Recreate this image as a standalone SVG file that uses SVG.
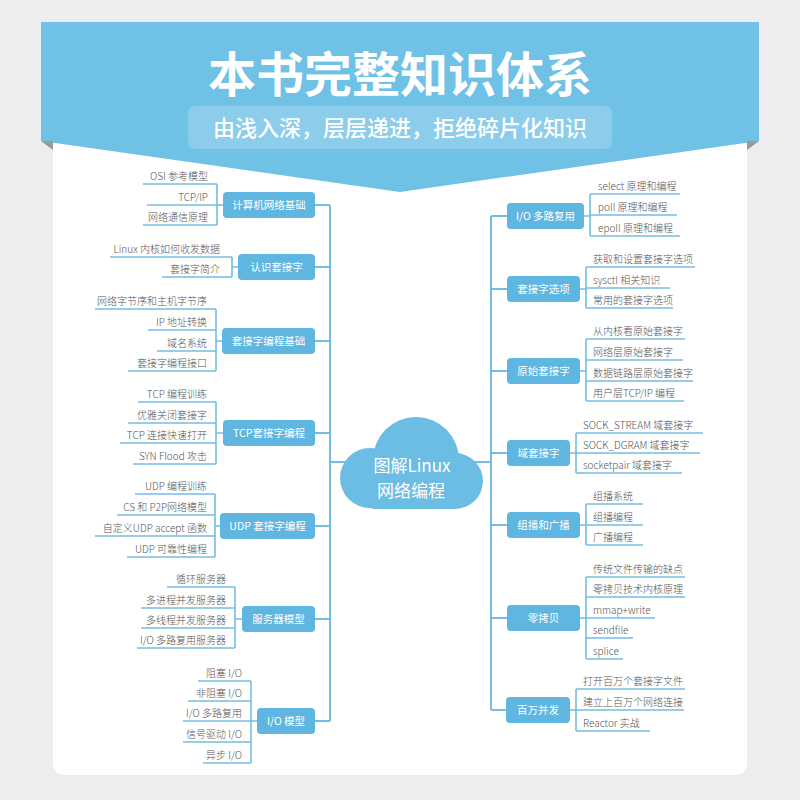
<svg xmlns="http://www.w3.org/2000/svg" width="800" height="800" viewBox="0 0 800 800">
<defs>
<style>
.bg{fill:#ededef}
.card{fill:#ffffff}
.banner{fill:#70c1e6}
.fold{fill:#9a9a9c}
.box{fill:#5fb6e0}
.ln{stroke:#74bde2;stroke-width:2;fill:none}
.ul{stroke:#74bde2;stroke-width:1.6;fill:none}
.nt{font-family:"Noto Sans CJK SC","Noto Sans",sans-serif;font-size:10.5px;fill:#ffffff;text-anchor:middle}
.lt{font-family:"Noto Sans CJK SC","Noto Sans",sans-serif;font-size:10px;fill:#555555;font-weight:300}
.l{text-anchor:end}
.r{text-anchor:start}
.ct{font-family:"Noto Sans CJK SC","Noto Sans",sans-serif;font-size:17px;fill:#ffffff;text-anchor:middle}
</style>
</defs>
<rect class="bg" x="0" y="0" width="800" height="800"/>
<path class="card" d="M53,130 H747 V763 Q747,775 735,775 H65 Q53,775 53,763 Z"/>
<g id="banner">
<polygon class="banner" points="41,22 759,22 759,141 400,192 41,141"/>
<polygon class="fold" points="41,141 53,141 53,150"/>
<polygon class="fold" points="759,141 747,141 747,150"/>
<text x="400" y="92" font-family="'Noto Sans CJK SC',sans-serif" font-size="48" font-weight="bold" fill="#ffffff" text-anchor="middle">本书完整知识体系</text>
<rect x="188" y="106" width="424" height="43" rx="6" fill="#ffffff" fill-opacity="0.2"/>
<text x="400" y="136" font-family="'Noto Sans CJK SC',sans-serif" font-size="22" font-weight="500" fill="#ffffff" text-anchor="middle">由浅入深，层层递进，拒绝碎片化知识</text>
</g>

<g id="connectors">
<line class="ln" x1="330" y1="462" x2="491" y2="462"/>
<line class="ln" x1="330" y1="205" x2="330" y2="721"/>
<line class="ln" x1="491" y1="216" x2="491" y2="710"/>
<line class="ln" x1="315" y1="205" x2="330" y2="205"/>
<line class="ln" x1="315" y1="267" x2="330" y2="267"/>
<line class="ln" x1="315" y1="341" x2="330" y2="341"/>
<line class="ln" x1="315" y1="433" x2="330" y2="433"/>
<line class="ln" x1="315" y1="526" x2="330" y2="526"/>
<line class="ln" x1="315" y1="619" x2="330" y2="619"/>
<line class="ln" x1="315" y1="721" x2="330" y2="721"/>
<line class="ln" x1="491" y1="216" x2="507" y2="216"/>
<line class="ln" x1="491" y1="289" x2="507" y2="289"/>
<line class="ln" x1="491" y1="371" x2="507" y2="371"/>
<line class="ln" x1="491" y1="453" x2="507" y2="453"/>
<line class="ln" x1="491" y1="525" x2="507" y2="525"/>
<line class="ln" x1="491" y1="618" x2="507" y2="618"/>
<line class="ln" x1="491" y1="710" x2="506" y2="710"/>
<path class="ul" d="M217,184 V225 M217,205 H223"/>
<path class="ul" d="M232,257 V277 M232,267 H238"/>
<path class="ul" d="M216,309 V371 M216,341 H222"/>
<path class="ul" d="M216,402 V464 M216,433 H223"/>
<path class="ul" d="M215,494 V557 M215,526 H220"/>
<path class="ul" d="M235,587 V648 M235,619 H242"/>
<path class="ul" d="M251,681 V763 M251,721 H257"/>
<path class="ul" d="M590,194 V236 M584,216 H590"/>
<path class="ul" d="M586,267 V308 M580,289 H586"/>
<path class="ul" d="M586,339 V401 M580,371 H586"/>
<path class="ul" d="M576,433 V473 M570,453 H576"/>
<path class="ul" d="M586,504 V545 M580,525 H586"/>
<path class="ul" d="M586,577 V659 M580,618 H586"/>
<path class="ul" d="M576,689 V731 M570,710 H576"/>
</g>

<g id="center">
<g fill="#6cbde3">
<circle cx="370" cy="478" r="30"/>
<circle cx="416" cy="460" r="43"/>
<circle cx="455" cy="481" r="28"/>
<rect x="368" y="470" width="90" height="39" rx="6"/>
</g>
<text class="ct" x="412" y="472">图解Linux</text>
<text class="ct" x="411" y="497">网络编程</text>
</g>

<g id="n-jisuanji"><rect class="box" x="223" y="192" width="92" height="26" rx="4"/><text class="nt" x="269" y="209">计算机网络基础</text></g>
<g id="l1-1"><line class="ul" x1="143" y1="184" x2="217" y2="184"/><text class="lt l" x="208" y="180">OSI 参考模型</text></g>
<g id="l1-2"><line class="ul" x1="147" y1="205" x2="217" y2="205"/><text class="lt l" x="208" y="201">TCP/IP</text></g>
<g id="l1-3"><line class="ul" x1="143" y1="225" x2="217" y2="225"/><text class="lt l" x="208" y="221">网络通信原理</text></g>

<g id="n-renshi"><rect class="box" x="238" y="254" width="77" height="26" rx="4"/><text class="nt" x="276.5" y="271">认识套接字</text></g>
<g id="l2-1"><line class="ul" x1="110" y1="257" x2="232" y2="257"/><text class="lt l" x="220" y="253">Linux 内核如何收发数据</text></g>
<g id="l2-2"><line class="ul" x1="162" y1="277" x2="232" y2="277"/><text class="lt l" x="220" y="273">套接字简介</text></g>

<g id="n-biancheng"><rect class="box" x="222" y="328" width="93" height="26" rx="4"/><text class="nt" x="268.5" y="345">套接字编程基础</text></g>
<g id="l3-1"><line class="ul" x1="95" y1="309" x2="216" y2="309"/><text class="lt l" x="207" y="305">网络字节序和主机字节序</text></g>
<g id="l3-2"><line class="ul" x1="148" y1="330" x2="216" y2="330"/><text class="lt l" x="207" y="326">IP 地址转换</text></g>
<g id="l3-3"><line class="ul" x1="157" y1="351" x2="216" y2="351"/><text class="lt l" x="207" y="347">域名系统</text></g>
<g id="l3-4"><line class="ul" x1="128" y1="371" x2="216" y2="371"/><text class="lt l" x="207" y="367">套接字编程接口</text></g>

<g id="n-tcp"><rect class="box" x="223" y="420" width="92" height="26" rx="4"/><text class="nt" x="269" y="437">TCP套接字编程</text></g>
<g id="l4-1"><line class="ul" x1="138" y1="402" x2="216" y2="402"/><text class="lt l" x="207" y="398">TCP 编程训练</text></g>
<g id="l4-2"><line class="ul" x1="128" y1="423" x2="216" y2="423"/><text class="lt l" x="207" y="419">优雅关闭套接字</text></g>
<g id="l4-3"><line class="ul" x1="120" y1="443" x2="216" y2="443"/><text class="lt l" x="207" y="439">TCP 连接快速打开</text></g>
<g id="l4-4"><line class="ul" x1="133" y1="464" x2="216" y2="464"/><text class="lt l" x="207" y="460">SYN Flood 攻击</text></g>

<g id="n-udp"><rect class="box" x="220" y="513" width="95" height="26" rx="4"/><text class="nt" x="267.5" y="530">UDP 套接字编程</text></g>
<g id="l5-1"><line class="ul" x1="135" y1="494" x2="215" y2="494"/><text class="lt l" x="207" y="490">UDP 编程训练</text></g>
<g id="l5-2"><line class="ul" x1="117" y1="515" x2="215" y2="515"/><text class="lt l" x="207" y="511">CS 和 P2P网络模型</text></g>
<g id="l5-3"><line class="ul" x1="95" y1="536" x2="215" y2="536"/><text class="lt l" x="207" y="532">自定义UDP accept 函数</text></g>
<g id="l5-4"><line class="ul" x1="127" y1="557" x2="215" y2="557"/><text class="lt l" x="207" y="553">UDP 可靠性编程</text></g>

<g id="n-server"><rect class="box" x="242" y="606" width="73" height="26" rx="4"/><text class="nt" x="278.5" y="623">服务器模型</text></g>
<g id="l6-1"><line class="ul" x1="167" y1="587" x2="235" y2="587"/><text class="lt l" x="226" y="583">循环服务器</text></g>
<g id="l6-2"><line class="ul" x1="141" y1="608" x2="235" y2="608"/><text class="lt l" x="226" y="604">多进程并发服务器</text></g>
<g id="l6-3"><line class="ul" x1="141" y1="628" x2="235" y2="628"/><text class="lt l" x="226" y="624">多线程并发服务器</text></g>
<g id="l6-4"><line class="ul" x1="137" y1="648" x2="235" y2="648"/><text class="lt l" x="226" y="644">I/O 多路复用服务器</text></g>

<g id="n-iomodel"><rect class="box" x="257" y="708" width="58" height="26" rx="4"/><text class="nt" x="286" y="725">I/O 模型</text></g>
<g id="l7-1"><line class="ul" x1="198" y1="681" x2="251" y2="681"/><text class="lt l" x="242" y="677">阻塞 I/O</text></g>
<g id="l7-2"><line class="ul" x1="188" y1="701" x2="251" y2="701"/><text class="lt l" x="242" y="697">非阻塞 I/O</text></g>
<g id="l7-3"><line class="ul" x1="183" y1="721" x2="251" y2="721"/><text class="lt l" x="242" y="717">I/O 多路复用</text></g>
<g id="l7-4"><line class="ul" x1="183" y1="742" x2="251" y2="742"/><text class="lt l" x="242" y="738">信号驱动 I/O</text></g>
<g id="l7-5"><line class="ul" x1="203" y1="763" x2="251" y2="763"/><text class="lt l" x="242" y="759">异步 I/O</text></g>

<g id="n-iomux"><rect class="box" x="507" y="203" width="77" height="26" rx="4"/><text class="nt" x="545.5" y="220">I/O 多路复用</text></g>
<g id="r1-1"><line class="ul" x1="590" y1="194" x2="680" y2="194"/><text class="lt r" x="598" y="190">select 原理和编程</text></g>
<g id="r1-2"><line class="ul" x1="590" y1="215" x2="677" y2="215"/><text class="lt r" x="598" y="211">poll 原理和编程</text></g>
<g id="r1-3"><line class="ul" x1="590" y1="236" x2="680" y2="236"/><text class="lt r" x="598" y="232">epoll 原理和编程</text></g>

<g id="n-sockopt"><rect class="box" x="507" y="276" width="73" height="26" rx="4"/><text class="nt" x="543.5" y="293">套接字选项</text></g>
<g id="r2-1"><line class="ul" x1="586" y1="267" x2="695" y2="267"/><text class="lt r" x="593" y="263">获取和设置套接字选项</text></g>
<g id="r2-2"><line class="ul" x1="586" y1="288" x2="670" y2="288"/><text class="lt r" x="593" y="284">sysctl 相关知识</text></g>
<g id="r2-3"><line class="ul" x1="586" y1="308" x2="673" y2="308"/><text class="lt r" x="593" y="304">常用的套接字选项</text></g>

<g id="n-raw"><rect class="box" x="507" y="358" width="73" height="26" rx="4"/><text class="nt" x="543.5" y="375">原始套接字</text></g>
<g id="r3-1"><line class="ul" x1="586" y1="339" x2="685" y2="339"/><text class="lt r" x="593" y="335">从内核看原始套接字</text></g>
<g id="r3-2"><line class="ul" x1="586" y1="360" x2="683" y2="360"/><text class="lt r" x="593" y="356">网络层原始套接字</text></g>
<g id="r3-3"><line class="ul" x1="586" y1="381" x2="693" y2="381"/><text class="lt r" x="593" y="377">数据链路层原始套接字</text></g>
<g id="r3-4"><line class="ul" x1="586" y1="401" x2="684" y2="401"/><text class="lt r" x="593" y="397">用户层TCP/IP 编程</text></g>

<g id="n-unix"><rect class="box" x="507" y="440" width="63" height="26" rx="4"/><text class="nt" x="538.5" y="457">域套接字</text></g>
<g id="r4-1"><line class="ul" x1="576" y1="433" x2="703" y2="433"/><text class="lt r" x="583" y="429">SOCK_STREAM 域套接字</text></g>
<g id="r4-2"><line class="ul" x1="576" y1="453" x2="700" y2="453"/><text class="lt r" x="583" y="449">SOCK_DGRAM 域套接字</text></g>
<g id="r4-3"><line class="ul" x1="576" y1="473" x2="682" y2="473"/><text class="lt r" x="583" y="469">socketpair 域套接字</text></g>

<g id="n-multicast"><rect class="box" x="507" y="512" width="73" height="26" rx="4"/><text class="nt" x="543.5" y="529">组播和广播</text></g>
<g id="r5-1"><line class="ul" x1="586" y1="504" x2="643" y2="504"/><text class="lt r" x="593" y="500">组播系统</text></g>
<g id="r5-2"><line class="ul" x1="586" y1="525" x2="643" y2="525"/><text class="lt r" x="593" y="521">组播编程</text></g>
<g id="r5-3"><line class="ul" x1="586" y1="545" x2="643" y2="545"/><text class="lt r" x="593" y="541">广播编程</text></g>

<g id="n-zerocopy"><rect class="box" x="507" y="605" width="73" height="26" rx="4"/><text class="nt" x="543.5" y="622">零拷贝</text></g>
<g id="r6-1"><line class="ul" x1="586" y1="577" x2="685" y2="577"/><text class="lt r" x="593" y="573">传统文件传输的缺点</text></g>
<g id="r6-2"><line class="ul" x1="586" y1="597" x2="685" y2="597"/><text class="lt r" x="593" y="593">零拷贝技术内核原理</text></g>
<g id="r6-3"><line class="ul" x1="586" y1="618" x2="655" y2="618"/><text class="lt r" x="593" y="614">mmap+write</text></g>
<g id="r6-4"><line class="ul" x1="586" y1="638" x2="633" y2="638"/><text class="lt r" x="593" y="634">sendfile</text></g>
<g id="r6-5"><line class="ul" x1="586" y1="659" x2="623" y2="659"/><text class="lt r" x="593" y="655">splice</text></g>

<g id="n-million"><rect class="box" x="506" y="697" width="64" height="26" rx="4"/><text class="nt" x="538" y="714">百万并发</text></g>
<g id="r7-1"><line class="ul" x1="576" y1="689" x2="685" y2="689"/><text class="lt r" x="583" y="685">打开百万个套接字文件</text></g>
<g id="r7-2"><line class="ul" x1="576" y1="710" x2="684" y2="710"/><text class="lt r" x="583" y="706">建立上百万个网络连接</text></g>
<g id="r7-3"><line class="ul" x1="576" y1="731" x2="650" y2="731"/><text class="lt r" x="583" y="727">Reactor 实战</text></g>
</svg>
